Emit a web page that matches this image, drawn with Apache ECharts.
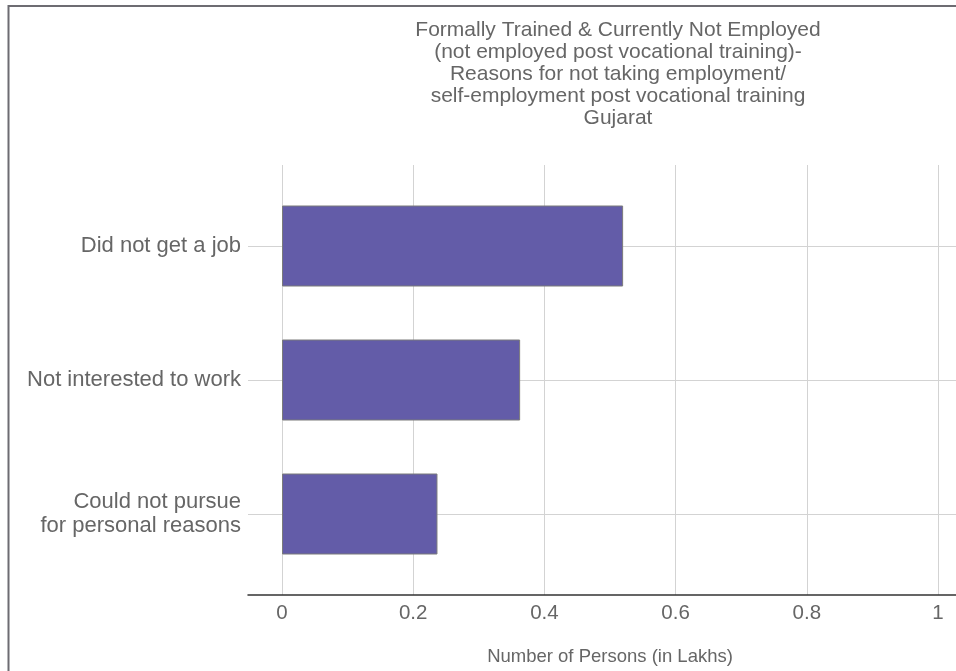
<!DOCTYPE html>
<html>
<head>
<meta charset="utf-8">
<script src="https://cdn.jsdelivr.net/npm/echarts@6/dist/echarts.min.js"></script>
<style>
html,body{margin:0;padding:0;background:#fff;}
#chart{width:956px;height:671px;}
</style>
</head>
<body>
<div id="chart"></div>
<script>
const titleLines = [
  'Formally Trained & Currently Not Employed',
  '(not employed post vocational training)-',
  'Reasons for not taking employment/',
  'self-employment post vocational training',
  'Gujarat'
];
const categories = ['Did not get a job', 'Not interested to work', 'Could not pursue\nfor personal reasons'];
const values = [0.52, 0.363, 0.237];
const axisName = 'Number of Persons (in Lakhs)';
const xMin = 0;
const xInterval = 0.2;

const FONT = 'Liberation Sans, Arial, sans-serif';
const TEXT = '#666666';
const GRID = '#d3d3d3';

// pixel scale: 0 at x=282, 1 at x=938
const pxPerUnit = 656;
const leftZero = 282;
const leftAxis = 248;
const W = 956;
const xMax = (W - leftZero) / pxPerUnit;
const xMinBars = -(leftZero - leftAxis) / pxPerUnit;

const chart = echarts.init(document.getElementById('chart'), null, {renderer: 'canvas'});
chart.setOption({
  animation: false,
  backgroundColor: '#ffffff',
  title: {
    text: titleLines.join('\n'),
    left: 613,
    top: 14,
    textAlign: 'center',
    textStyle: {fontFamily: FONT, fontSize: 21, fontWeight: 'normal', color: TEXT, lineHeight: 22}
  },
  graphic: [
    {type: 'line', shape: {x1: 8.5, y1: 6, x2: W, y2: 6}, style: {stroke: '#6d6c72', lineWidth: 2}, silent: true},
    {type: 'line', shape: {x1: 8.5, y1: 5, x2: 8.5, y2: 671}, style: {stroke: '#6d6c72', lineWidth: 2}, silent: true}
  ],
  grid: [
    {left: leftZero, right: 0, top: 165, bottom: 76, containLabel: false},
    {left: leftAxis, right: 0, top: 246, height: 268, containLabel: false}
  ],
  xAxis: [
    {
      gridIndex: 0, type: 'value', min: xMin, max: xMax, interval: xInterval,
      axisLine: {show: false}, axisTick: {show: false},
      splitLine: {show: true, showMaxLine: false, lineStyle: {color: GRID, width: 1}},
      axisLabel: {show: true, showMaxLabel: false, fontFamily: FONT, fontSize: 20.5, color: TEXT, margin: 8},
      name: axisName, nameLocation: 'middle', nameGap: 52,
      nameTextStyle: {fontFamily: FONT, fontSize: 18.5, color: TEXT, padding: [0, 18, 0, 0]}
    },
    {
      gridIndex: 1, type: 'value', min: xMinBars, max: xMax, position: 'bottom', offset: 81,
      axisLine: {show: true, lineStyle: {color: '#333333', width: 1.5}},
      axisTick: {show: false}, axisLabel: {show: false}, splitLine: {show: false}
    }
  ],
  yAxis: [
    {gridIndex: 0, type: 'category', data: categories, show: false},
    {
      gridIndex: 1, type: 'category', data: categories, inverse: true, boundaryGap: false,
      axisLine: {show: false}, axisTick: {show: false},
      splitLine: {show: true, lineStyle: {color: GRID, width: 1}},
      axisLabel: {fontFamily: FONT, fontSize: 22, color: TEXT, margin: 7, lineHeight: 24, align: 'right', padding: [3, 0, 0, 0]}
    }
  ],
  series: [{
    type: 'bar', xAxisIndex: 1, yAxisIndex: 1, data: values, barWidth: 81,
    itemStyle: {color: '#635ca8', borderColor: '#7b7b7b', borderWidth: 1},
    silent: true
  }]
});
</script>
</body>
</html>
